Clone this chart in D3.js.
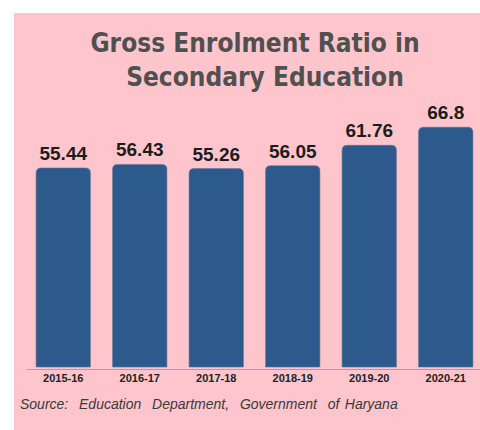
<!DOCTYPE html>
<html>
<head>
<meta charset="utf-8">
<script src="https://cdn.jsdelivr.net/npm/d3@7"></script>
<style>
  html, body { margin: 0; padding: 0; background: #ffffff; }
  svg { display: block; }
</style>
</head>
<body>
<div id="chart"></div>
<script>
// ---- data ----
const categories = ["2015-16", "2016-17", "2017-18", "2018-19", "2019-20", "2020-21"];
const values = [55.44, 56.43, 55.26, 56.05, 61.76, 66.8];
const valueLabels = ["55.44", "56.43", "55.26", "56.05", "61.76", "66.8"];
const titleLines = ["Gross Enrolment Ratio in", "Secondary Education"];
const sourceText = "Source:  Education  Department,  Government  of Haryana";

// ---- layout ----
const W = 480, H = 430;
const svg = d3.select("#chart").append("svg")
  .attr("width", W).attr("height", H);

svg.append("rect")
  .attr("x", 14).attr("y", 13)
  .attr("width", W - 14).attr("height", H - 13)
  .attr("fill", "#fec6cc");

const x = d3.scaleBand()
  .domain(categories)
  .range([25, 484])
  .paddingInner(0.29)
  .paddingOuter(0.145);

const y = d3.scaleLinear()
  .domain([0, 70])
  .range([367, 367 - 70 * 3.59]);

// title
svg.append("text")
  .attr("x", 255).attr("y", 52)
  .attr("text-anchor", "middle")
  .attr("font-family", "'DejaVu Sans Condensed', 'DejaVu Sans', sans-serif")
  .attr("font-weight", "bold")
  .attr("font-size", 26)
  .attr("fill", "#505050")
  .text(titleLines[0]);
svg.append("text")
  .attr("x", 265).attr("y", 86)
  .attr("text-anchor", "middle")
  .attr("font-family", "'DejaVu Sans Condensed', 'DejaVu Sans', sans-serif")
  .attr("font-weight", "bold")
  .attr("font-size", 26)
  .attr("fill", "#505050")
  .text(titleLines[1]);

// bars with rounded top corners
const r = 5;
function barPath(d, i) {
  const x0 = x(categories[i]), w = x.bandwidth();
  const yt = y(d), yb = y(0);
  return `M${x0},${yb} L${x0},${yt + r} Q${x0},${yt} ${x0 + r},${yt} L${x0 + w - r},${yt} Q${x0 + w},${yt} ${x0 + w},${yt + r} L${x0 + w},${yb} Z`;
}
svg.append("g").selectAll("path")
  .data(values)
  .join("path")
  .attr("d", barPath)
  .attr("fill", "#2d5a8c")
  .attr("stroke", "#5c7396")
  .attr("stroke-width", 0.6);

// value labels
svg.append("g").selectAll("text")
  .data(values)
  .join("text")
  .attr("x", (d, i) => x(categories[i]) + x.bandwidth() / 2)
  .attr("y", d => y(d) - 8)
  .attr("text-anchor", "middle")
  .attr("font-family", "'Liberation Sans', Arial, sans-serif")
  .attr("font-weight", "bold")
  .attr("font-size", 19)
  .attr("fill", "#1c1c1c")
  .text((d, i) => valueLabels[i]);

// x axis
const xAxis = d3.axisBottom(x).tickSize(0).tickPadding(5);
const gx = svg.append("g")
  .attr("transform", `translate(0, ${y(0) + 2})`)
  .call(xAxis);
gx.select(".domain")
  .attr("d", `M27,0.5H480`)
  .attr("stroke", "#a3a3a3")
  .attr("stroke-width", 1);
gx.selectAll(".tick text")
  .attr("font-family", "'Liberation Sans', Arial, sans-serif")
  .attr("font-weight", "bold")
  .attr("font-size", 11)
  .attr("fill", "#222222");

// source
svg.append("text")
  .attr("x", 20).attr("y", 409)
  .attr("font-family", "'Liberation Sans', Arial, sans-serif")
  .attr("font-style", "italic")
  .attr("font-size", 14)
  .attr("word-spacing", 1.5)
  .attr("fill", "#3a3a3a")
  .style("white-space", "pre")
  .text(sourceText);
</script>
</body>
</html>
